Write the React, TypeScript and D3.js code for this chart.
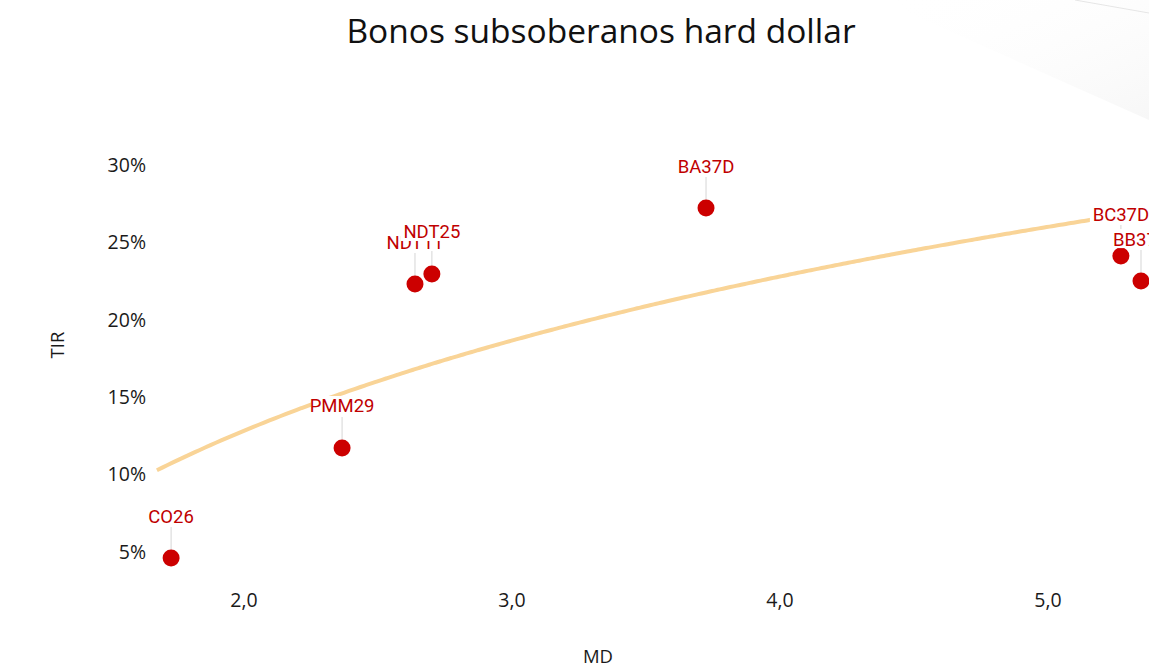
import { useMemo } from 'react'
import * as d3 from 'd3'

const bonds = ['CO26', 'PMM29', 'NDT11', 'NDT25', 'BA37D', 'BC37D', 'BB37D']
const md = [1.728, 2.366, 2.638, 2.701, 3.724, 5.272, 5.347]
const tir = [4.61, 11.72, 22.31, 22.96, 27.22, 24.12, 22.5]

const xTicks = [2, 3, 4, 5]
const yTicks = [5, 10, 15, 20, 25, 30]
const trendFrom = 1.675
const trendTo = 5.6

const W = 1149
const H = 668

const App = () => {
  const x = d3.scaleLinear().domain([2, 5]).range([244, 1048])
  const y = d3.scaleLinear().domain([5, 30]).range([552, 165])

  const points = bonds.map((name, i) => ({ name, md: md[i], tir: tir[i] }))

  // logarithmic least-squares fit, like the spreadsheet trendline
  const trend = useMemo(() => {
    const lx = md.map((v) => Math.log(v))
    const mx = d3.mean(lx)!
    const my = d3.mean(tir)!
    const sxy = d3.sum(lx.map((v, i) => (v - mx) * (tir[i] - my)))
    const sxx = d3.sum(lx.map((v) => (v - mx) ** 2))
    const b = sxy / sxx
    const a = my - b * mx
    const xs = d3.range(trendFrom, trendTo, 0.02)
    return xs.map((v) => [v, a + b * Math.log(v)] as [number, number])
  }, [])

  const line = d3
    .line<[number, number]>()
    .x((d) => x(d[0]))
    .y((d) => y(d[1]))
    .curve(d3.curveMonotoneX)

  const fmtX = (v: number) => v.toFixed(1).replace('.', ',')
  const labelOffset = 42

  return (
    <svg
      width={W}
      height={H}
      style={{ position: 'absolute', left: 0, top: 0, background: '#fff' }}
    >
      <defs>
        <linearGradient id="corner" x1="0%" y1="0%" x2="100%" y2="100%">
          <stop offset="0%" stopColor="#fff" stopOpacity={0} />
          <stop offset="100%" stopColor="#f7f7f7" stopOpacity={1} />
        </linearGradient>
      </defs>
      <path d={`M880,0 L${W},0 L${W},120 Z`} fill="url(#corner)" />
      <line x1={1075} y1={0} x2={W} y2={13} stroke="#e6e6e6" strokeWidth={1} />

      <text
        x={601}
        y={43}
        textAnchor="middle"
        fontFamily="'Open Sans', sans-serif"
        fontSize={33.5}
        fill="#111"
      >
        Bonos subsoberanos hard dollar
      </text>

      {yTicks.map((t) => (
        <text
          key={t}
          x={146}
          y={y(t)}
          dy="0.35em"
          textAnchor="end"
          fontFamily="'Open Sans', sans-serif"
          fontSize={19.5}
          fill="#1a1a1a"
        >
          {t}%
        </text>
      ))}

      {xTicks.map((t) => (
        <text
          key={t}
          x={x(t)}
          y={600}
          dy="0.35em"
          textAnchor="middle"
          fontFamily="'Open Sans', sans-serif"
          fontSize={19.5}
          fill="#1a1a1a"
        >
          {fmtX(t)}
        </text>
      ))}

      <text
        x={598}
        y={657}
        dy="0.35em"
        textAnchor="middle"
        fontFamily="'Open Sans', sans-serif"
        fontSize={18.5}
        fill="#1a1a1a"
      >
        MD
      </text>
      <text
        transform="translate(58,345) rotate(-90)"
        dy="0.35em"
        textAnchor="middle"
        fontFamily="'Open Sans', sans-serif"
        fontSize={18.5}
        fill="#1a1a1a"
      >
        TIR
      </text>

      <path d={line(trend)!} fill="none" stroke="#f9d497" strokeWidth={4} />

      {points.map((p) => (
        <line
          key={p.name + '-lead'}
          x1={x(p.md)}
          x2={x(p.md)}
          y1={y(p.tir) - labelOffset + 11}
          y2={y(p.tir) - 8}
          stroke="#dcdcdc"
          strokeWidth={1.2}
        />
      ))}

      {points.map((p) => (
        <circle key={p.name} cx={x(p.md)} cy={y(p.tir)} r={8.5} fill="#cc0000" />
      ))}

      {points.map((p) => {
        const w = p.name.length * 12
        return (
          <g key={p.name + '-label'} transform={`translate(${x(p.md)},${y(p.tir) - labelOffset})`}>
            <rect x={-w / 2 - 1} y={-10} width={w + 2} height={19} fill="#fff" />
            <text
              textAnchor="middle"
              dy="0.35em"
              fontFamily="Roboto, sans-serif"
              fontSize={18.5}
              fill="#c00000"
            >
              {p.name}
            </text>
          </g>
        )
      })}
    </svg>
  )
}

export default App
